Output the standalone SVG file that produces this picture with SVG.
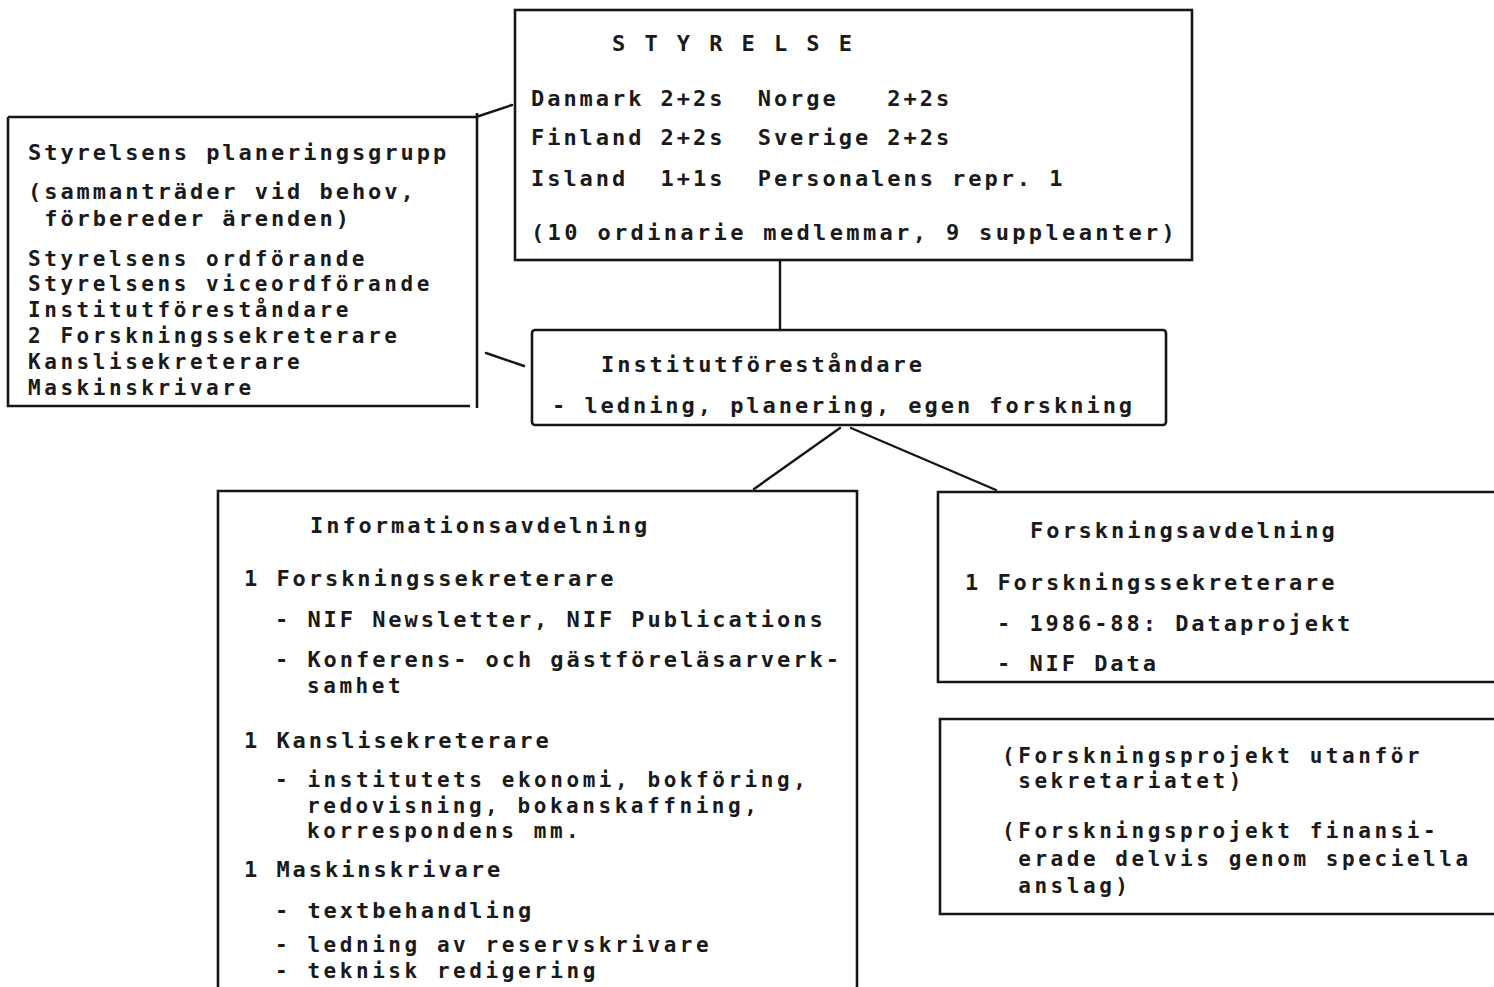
<svg xmlns="http://www.w3.org/2000/svg" width="1494" height="987" viewBox="0 0 1494 987">
<style>
.box{fill:none;stroke:#161616;stroke-width:2.6}
.ln{fill:none;stroke:#161616;stroke-width:2.4;stroke-linecap:round}
text{font-family:"DejaVu Sans Mono","Liberation Mono",monospace;font-size:22px;letter-spacing:2.95px;fill:#1a1a1a;font-weight:bold;white-space:pre}
text.t{font-size:21px;letter-spacing:3.55px}
</style>
<rect width="1494" height="987" fill="#ffffff"/>
<g id="connectors">
<line class="ln" x1="780" y1="260" x2="780" y2="330"/>
<line class="ln" x1="476" y1="117" x2="512" y2="105"/>
<line class="ln" x1="486" y1="353" x2="524" y2="366"/>
<line class="ln" x1="840" y1="428" x2="754" y2="489"/>
<line class="ln" x1="851" y1="428" x2="996" y2="490"/>
</g>
<g id="styrelse">
<rect class="box" x="515" y="10" width="677" height="250"/>
<text x="612" y="51">S T Y R E L S E</text>
<text x="531" y="106">Danmark 2+2s  Norge   2+2s</text>
<text x="531" y="145">Finland 2+2s  Sverige 2+2s</text>
<text x="531" y="186">Island  1+1s  Personalens repr. 1</text>
<text x="531" y="240" style="letter-spacing:3.35px">(10 ordinarie medlemmar, 9 suppleanter)</text>
</g>
<g id="planeringsgrupp">
<path class="box" d="M477,113 V408 M8,117 H477 M8,117 V406 H470"/>
<text x="28" y="160">Styrelsens planeringsgrupp</text>
<text x="28" y="199">(sammanträder vid behov,</text>
<text x="28" y="226"> förbereder ärenden)</text>
<text class="t" x="28" y="266">Styrelsens ordförande</text>
<text class="t" x="28" y="291">Styrelsens viceordförande</text>
<text class="t" x="28" y="317">Institutföreståndare</text>
<text class="t" x="28" y="343">2 Forskningssekreterare</text>
<text class="t" x="28" y="369">Kanslisekreterare</text>
<text class="t" x="28" y="395">Maskinskrivare</text>
</g>
<g id="institutforestandare">
<rect class="box" x="532" y="330" width="634" height="95" rx="3"/>
<text x="601" y="372">Institutföreståndare</text>
<text x="552" y="413">- ledning, planering, egen forskning</text>
</g>
<g id="informationsavdelning">
<path class="box" d="M218,990 V491 H857 V990"/>
<text x="310" y="533">Informationsavdelning</text>
<text x="244" y="586">1 Forskningssekreterare</text>
<text x="275" y="627">- NIF Newsletter, NIF Publications</text>
<text x="275" y="667">- Konferens- och gästföreläsarverk-</text>
<text class="t" x="307" y="693">samhet</text>
<text x="244" y="748">1 Kanslisekreterare</text>
<text class="t" x="275" y="787">- institutets ekonomi, bokföring,</text>
<text class="t" x="307" y="813">redovisning, bokanskaffning,</text>
<text class="t" x="307" y="838">korrespondens mm.</text>
<text x="244" y="877">1 Maskinskrivare</text>
<text x="275" y="918">- textbehandling</text>
<text class="t" x="275" y="952">- ledning av reservskrivare</text>
<text class="t" x="275" y="978">- teknisk redigering</text>
</g>
<g id="forskningsavdelning">
<path class="box" d="M1496,492 H938 V682 H1496"/>
<text x="1030" y="538">Forskningsavdelning</text>
<text x="965" y="590">1 Forskningssekreterare</text>
<text x="997" y="631">- 1986-88: Dataprojekt</text>
<text x="997" y="671">- NIF Data</text>
</g>
<g id="forskningsprojekt">
<path class="box" d="M1496,719 H940 V914 H1496"/>
<text class="t" x="1002" y="763">(Forskningsprojekt utanför</text>
<text class="t" x="1002" y="788"> sekretariatet)</text>
<text class="t" x="1002" y="838">(Forskningsprojekt finansi-</text>
<text class="t" x="1002" y="866"> erade delvis genom speciella</text>
<text class="t" x="1002" y="893"> anslag)</text>
</g>
</svg>
